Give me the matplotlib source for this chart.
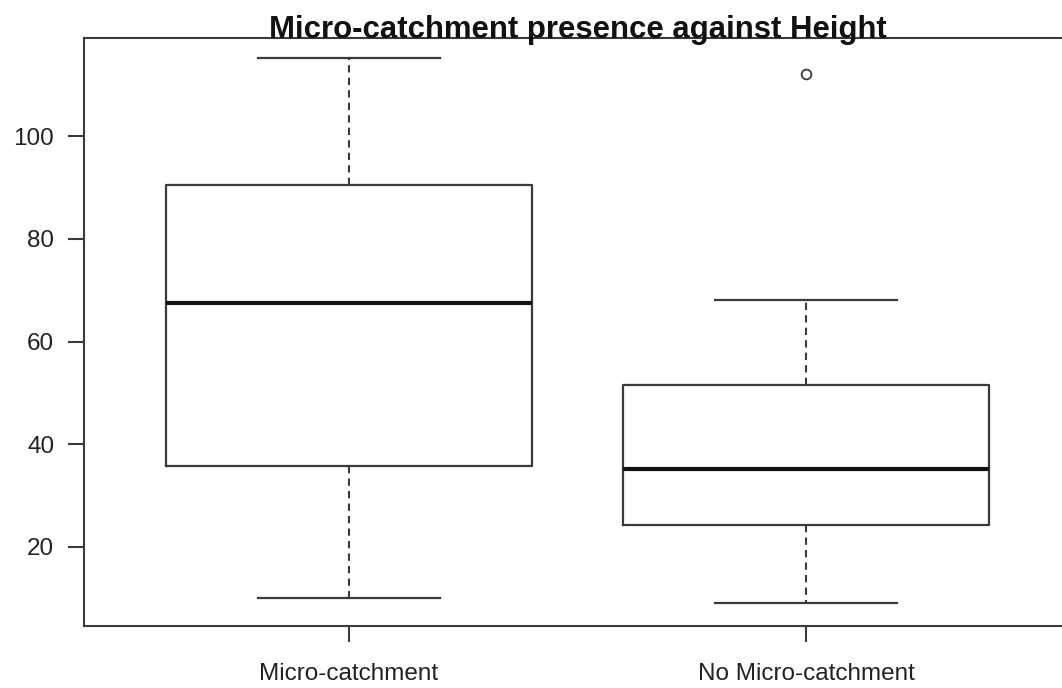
import matplotlib
matplotlib.use("Agg")
import matplotlib.pyplot as plt

# values
categories = ["Micro-catchment", "No Micro-catchment"]
whislo = [10.1, 9.1]
q1 = [35.8, 24.3]
med = [67.5, 35.2]
q3 = [90.5, 51.5]
whishi = [115.2, 68.1]
fliers = [[], [112.1]]
yticks = [20, 40, 60, 80, 100]

plt.rcParams['font.family'] = ['Liberation Sans', 'DejaVu Sans']

fig = plt.figure(figsize=(10.62, 6.88), dpi=100)
# right spine sits just outside the picture, like the cropped original
ax = fig.add_axes([84 / 1062, 62 / 688, 987 / 1062, 588 / 688])

stats = []
for i in range(len(categories)):
    stats.append(dict(label=categories[i], whislo=whislo[i], q1=q1[i], med=med[i],
                      q3=q3[i], whishi=whishi[i], fliers=fliers[i]))

line_col = '#3a3a3a'
ax.bxp(stats, positions=[1, 2], widths=0.8, showfliers=True,
       boxprops=dict(color=line_col, lw=1.6),
       medianprops=dict(color='#111111', lw=3.0, solid_capstyle='butt'),
       whiskerprops=dict(color=line_col, lw=1.5, linestyle=(0, (3.5, 2.5))),
       capprops=dict(color=line_col, lw=1.6),
       capwidths=0.4,
       flierprops=dict(marker='o', markersize=7, markerfacecolor='none',
                       markeredgecolor=line_col, markeredgewidth=1.3))

ax.set_xlim(0.42, 2.58)
ax.set_ylim(4.6, 119.1)
ax.set_yticks(yticks)
ax.set_xticks([1, 2])
ax.set_xticklabels(categories)

for s in ax.spines.values():
    s.set_color(line_col)
    s.set_linewidth(1.5)

ax.tick_params(axis='both', direction='out', length=11.5, width=1.5,
               color=line_col, labelsize=17.5, labelcolor='#222222', pad=10)
ax.tick_params(axis='x', pad=15)

# title baseline sits right on the top spine
ax.text(0.5, 1.0, "Micro-catchment presence against Height", transform=ax.transAxes,
        ha='center', va='baseline', fontsize=22.4, fontweight='bold', color='#111111')

fig.savefig("out.png", dpi=100)
